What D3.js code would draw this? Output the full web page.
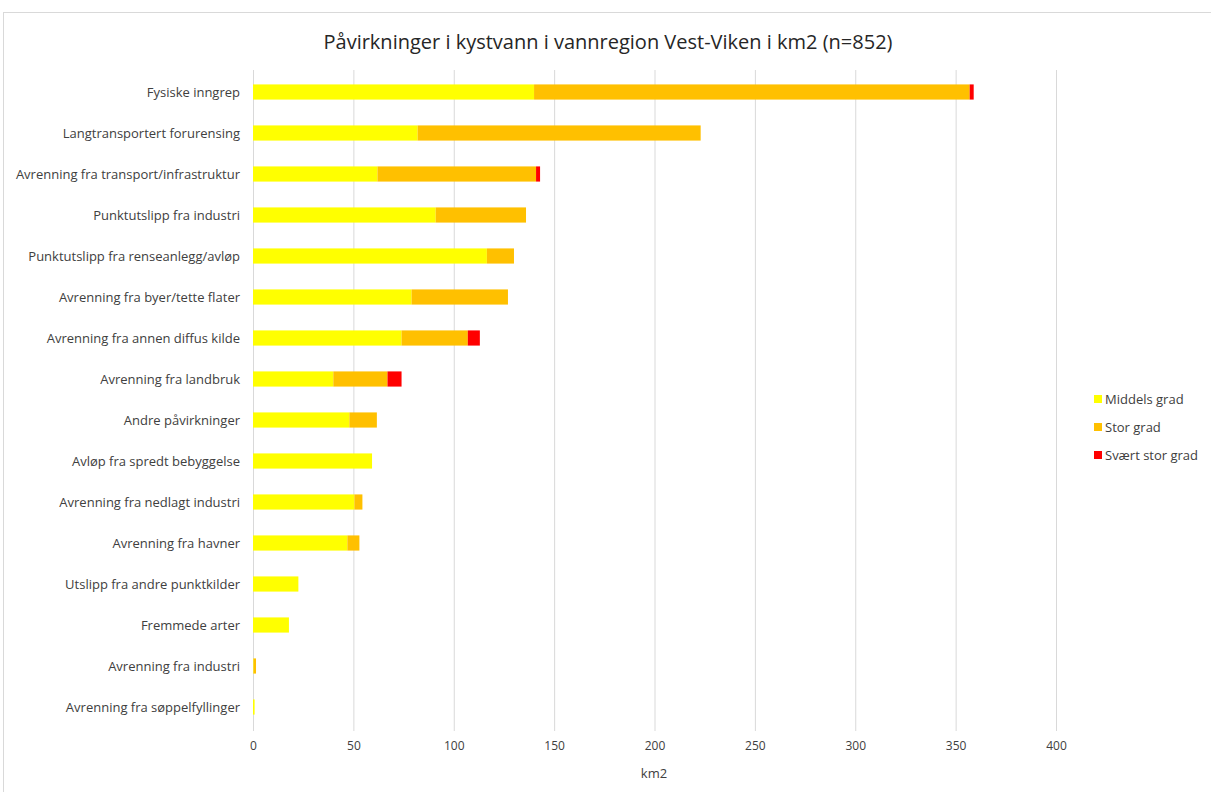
<!DOCTYPE html>
<html><head><meta charset="utf-8">
<script src="https://cdn.jsdelivr.net/npm/d3@7"></script>
<style>body{margin:0;background:#fff;} text{font-family:"Open Sans",Arial,sans-serif;}</style>
</head><body>
<svg id="c" width="1211" height="792"></svg>
<script>
const categories = ["Fysiske inngrep","Langtransportert forurensing","Avrenning fra transport/infrastruktur","Punktutslipp fra industri","Punktutslipp fra renseanlegg/avløp","Avrenning fra byer/tette flater","Avrenning fra annen diffus kilde","Avrenning fra landbruk","Andre påvirkninger","Avløp fra spredt bebyggelse","Avrenning fra nedlagt industri","Avrenning fra havner","Utslipp fra andre punktkilder","Fremmede arter","Avrenning fra industri","Avrenning fra søppelfyllinger"];
const middels = [140,82,62,91,116.5,79,74,40,48,59.3,50.5,47,22.6,17.9,0.3,0.8];
const stor    = [217,141,79,45,13.5,48,33,27,13.7,0,4,6,0,0,1.2,0];
const svaert  = [2,0,2,0,0,0,6,7,0,0,0,0,0,0,0,0];
const seriesNames = ["Middels grad","Stor grad","Svært stor grad"];
const colors = ["#FFFF00","#FFC000","#FF0000"];
const xTicks = [0,50,100,150,200,250,300,350,400];

const svg = d3.select("#c");
svg.append("rect").attr("x",3.5).attr("y",12.5).attr("width",1220).attr("height",800)
  .attr("fill","none").attr("stroke","#d9d9d9");

const x = d3.scaleLinear().domain([0,400]).range([253,1056]);
const y = d3.scaleBand().domain(categories).range([71.5,727.5]).paddingInner(0.63).paddingOuter(0.315);

svg.append("g").selectAll("line").data(xTicks).join("line")
  .attr("x1",d=>x(d)+0.5).attr("x2",d=>x(d)+0.5).attr("y1",70).attr("y2",731)
  .attr("stroke","#d9d9d9").attr("stroke-width",1);

const rows = categories.map((c,i)=>({cat:c,m:middels[i],s:stor[i],v:svaert[i]}));
const stack = d3.stack().keys(["m","s","v"])(rows);
svg.append("g").selectAll("g").data(stack).join("g")
  .attr("fill",(d,i)=>colors[i])
  .selectAll("rect").data(d=>d).join("rect")
  .attr("x",d=>x(d[0])).attr("width",d=>Math.max(0,x(d[1])-x(d[0])))
  .attr("y",d=>y(d.data.cat)).attr("height",y.bandwidth());

svg.append("g").selectAll("text").data(categories).join("text")
  .attr("x",240).attr("y",d=>y(d)+y.bandwidth()/2).attr("dy","0.35em")
  .attr("text-anchor","end").attr("font-size",13).attr("fill","#404040").text(d=>d);

const xa = svg.append("g").attr("transform","translate(0,731)")
  .call(d3.axisBottom(x).tickValues(xTicks).tickSize(0).tickPadding(10));
xa.select(".domain").remove();
xa.selectAll("text").attr("font-size",12).attr("fill","#404040").attr("font-family","Open Sans, Arial, sans-serif");

svg.append("text").attr("x",654).attr("y",778).attr("text-anchor","middle")
  .attr("font-size",13).attr("fill","#404040").text("km2");

svg.append("text").attr("x",608).attr("y",49).attr("text-anchor","middle")
  .attr("font-size",20).attr("fill","#262626").text("Påvirkninger i kystvann i vannregion Vest-Viken i km2 (n=852)");

const lg = svg.append("g").selectAll("g").data(seriesNames).join("g")
  .attr("transform",(d,i)=>`translate(1094,${399+i*28})`);
lg.append("rect").attr("x",0).attr("y",-4).attr("width",8).attr("height",8).attr("fill",(d,i)=>colors[i]);
lg.append("text").attr("x",11).attr("y",0).attr("dy","0.35em").attr("font-size",13).attr("fill","#404040").text(d=>d);
</script>
</body></html>
